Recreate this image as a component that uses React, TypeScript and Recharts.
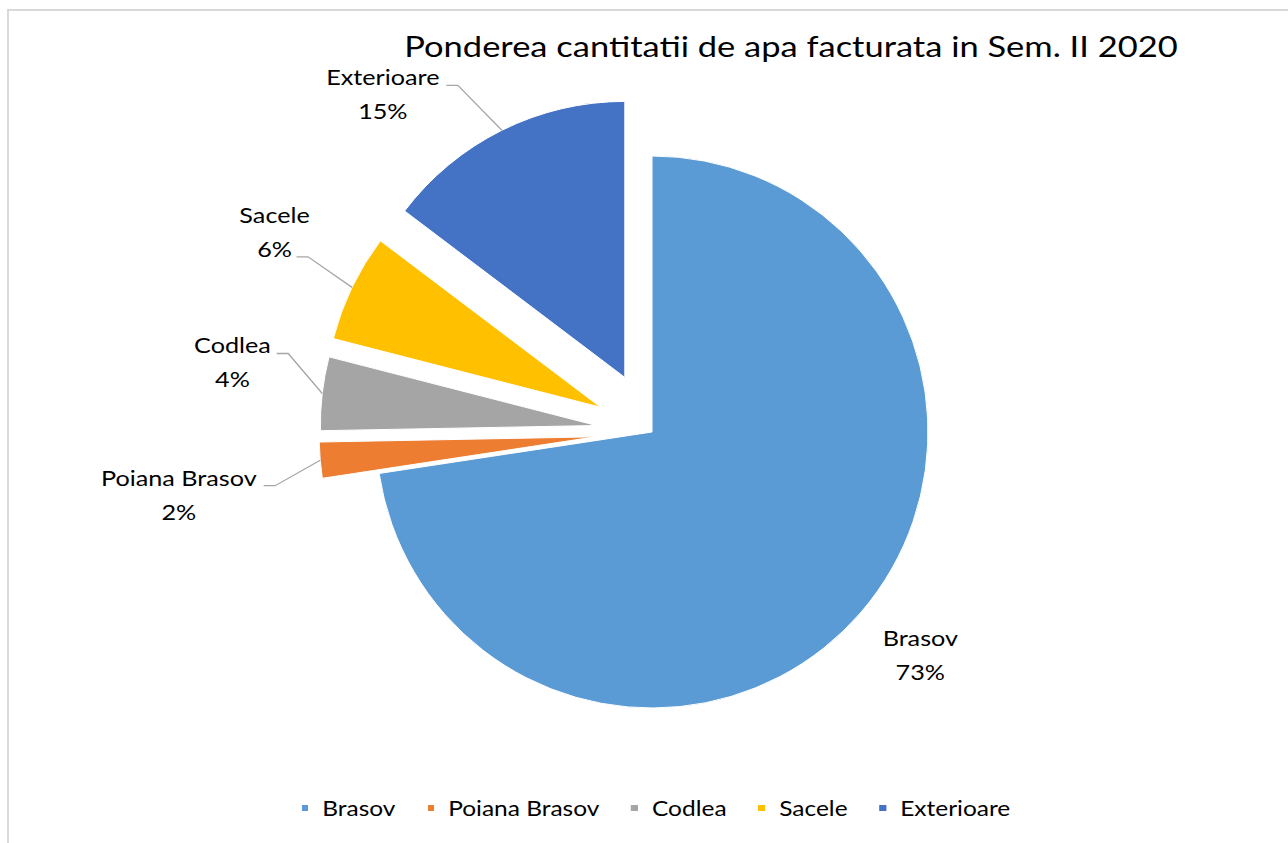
import React from "react";
import { Cell, Legend, Pie, PieChart, Sector } from "recharts";

const categories = ["Brasov", "Poiana Brasov", "Codlea", "Sacele", "Exterioare"];
const shares = [72.6, 2.1, 4.3, 6.3, 14.7];
const colors = ["#5B9BD5", "#ED7D31", "#A5A5A5", "#FFC000", "#4472C4"];
const title = "Ponderea cantitatii de apa facturata in Sem. II 2020";

// how far each slice is pulled out of the pie, px
const explode = [0, 57, 56, 57, 61];

// data label placement (Excel "best fit"): elbow relative to slice arc middle,
// text centre / first baseline relative to elbow
const labelLayout: { elbow: [number, number] | null; text: [number, number] }[] = [
  { elbow: null, text: [59, 34] },
  { elbow: [-45, 25.5], text: [-96.4, 0] },
  { elbow: [-34, -40], text: [-55.8, 0] },
  { elbow: [-44, -30.6], text: [-33.5, -33.6] },
  { elbow: [-44, -45], text: [-75, 0] },
];

const W = 1288;
const H = 843;
const CX = 652;
const CY = 432;
const R = 276;
const RAD = Math.PI / 180;
const SX = 1.2; // horizontal stretch of the text
const FONT = "Lato, 'Open Sans', sans-serif";
const LINE = 34;

const rows = categories.map((name, i) => ({ name, value: shares[i] }));

function StretchedText({
  x,
  y,
  size,
  sx = SX,
  children,
}: {
  x: number;
  y: number;
  size: number;
  sx?: number;
  children: React.ReactNode;
}) {
  return (
    <text
      transform={`translate(${x} ${y}) scale(${sx} 1)`}
      textAnchor="middle"
      fontFamily={FONT}
      fontSize={size}
      fill="#000"
    >
      {children}
    </text>
  );
}

function explodedCenter(name: string, cx: number, cy: number, midAngle: number) {
  const d = explode[categories.indexOf(name)] || 0;
  return {
    x: cx + d * Math.cos(-midAngle * RAD),
    y: cy + d * Math.sin(-midAngle * RAD),
  };
}

function renderSlice(props: any) {
  const name = props.name ?? props.payload?.name;
  const c = explodedCenter(name, props.cx, props.cy, props.midAngle);
  return <Sector {...props} cx={c.x} cy={c.y} />;
}

function renderLabel(props: any) {
  const name = props.name ?? props.payload?.name;
  const i = categories.indexOf(name);
  const layout = labelLayout[i];
  const c = explodedCenter(name, props.cx, props.cy, props.midAngle);
  const ax = c.x + props.outerRadius * Math.cos(-props.midAngle * RAD);
  const ay = c.y + props.outerRadius * Math.sin(-props.midAngle * RAD);
  const pct = `${Math.round(props.percent * 100)}%`;

  let bx = ax;
  let by = ay;
  let line = null;
  if (layout.elbow) {
    bx = ax + layout.elbow[0];
    by = ay + layout.elbow[1];
    line = (
      <path
        d={`M${ax},${ay}L${bx},${by}L${bx - 11.5},${by}`}
        stroke="#a6a6a6"
        strokeWidth={1.3}
        fill="none"
      />
    );
  }
  const tx = bx + layout.text[0];
  const ty = by + layout.text[1];

  return (
    <g key={name}>
      {line}
      <StretchedText x={tx} y={ty} size={21}>{name}</StretchedText>
      <StretchedText x={tx} y={ty + LINE} size={21}>{pct}</StretchedText>
    </g>
  );
}

function LegendRow() {
  return (
    <div
      style={{
        display: "flex",
        justifyContent: "center",
        alignItems: "center",
        height: 30,
        transform: `scaleX(${SX})`,
        fontFamily: FONT,
        fontSize: 20.4,
        lineHeight: "30px",
        color: "#000",
      }}
    >
      {categories.map((name, i) => (
        <div
          key={name}
          style={{
            display: "flex",
            alignItems: "center",
            marginRight: i < categories.length - 1 ? 26.7 : 0,
          }}
        >
          <span
            style={{
              width: 5.5,
              height: 6.5,
              background: colors[i],
              marginRight: 11.7,
              display: "inline-block",
            }}
          />
          <span>{name}</span>
        </div>
      ))}
    </div>
  );
}

export default function App() {
  return (
    <div
      style={{
        position: "absolute",
        left: 0,
        top: 0,
        width: W,
        height: H,
        overflow: "hidden",
        background: "#fff",
      }}
    >
      <div
        style={{
          position: "absolute",
          left: 7,
          top: 9,
          width: 1400,
          height: 1000,
          border: "2px solid #d9d9d9",
        }}
      />
      <div style={{ position: "absolute", left: 0, top: 0 }}>
        <PieChart width={W} height={H} margin={{ top: 0, right: 0, bottom: 0, left: 0 }}>
          <Pie
            data={rows}
            dataKey="value"
            nameKey="name"
            cx={CX}
            cy={CY}
            outerRadius={R}
            startAngle={90}
            endAngle={-270}
            stroke="#fff"
            strokeWidth={1}
            shape={renderSlice}
            label={renderLabel}
            labelLine={false}
            isAnimationActive={false}
          >
            {rows.map((r, i) => (
              <Cell key={r.name} fill={colors[i]} />
            ))}
          </Pie>
          <Legend
            content={<LegendRow />}
            wrapperStyle={{ left: 0, top: 793, width: 1312, height: 30 }}
          />
        </PieChart>
      </div>
      <svg
        width={W}
        height={H}
        style={{ position: "absolute", left: 0, top: 0, pointerEvents: "none" }}
      >
        <StretchedText x={791} y={57} size={28.5} sx={1.21}>
          {title}
        </StretchedText>
      </svg>
    </div>
  );
}
